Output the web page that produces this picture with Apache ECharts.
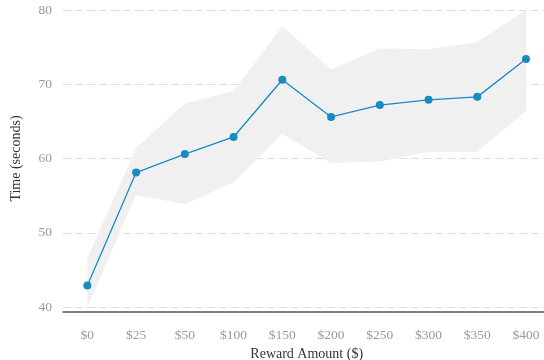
<!DOCTYPE html>
<html>
<head>
<meta charset="utf-8">
<script src="https://cdn.jsdelivr.net/npm/echarts@6/dist/echarts.min.js"></script>
<style>
  html, body { margin: 0; padding: 0; background: #fff; }
  #chart { width: 544px; height: 360px; }
</style>
</head>
<body>
<div id="chart"></div>
<script>
// Reward tiers and mean response time with its interval band
const rewards = ['$0', '$25', '$50', '$100', '$150', '$200', '$250', '$300', '$350', '$400'];
const meanTime = [42.9, 58.1, 60.6, 62.9, 70.6, 65.6, 67.2, 67.9, 68.3, 73.4];
const bandLower = [40.0, 55.1, 53.85, 56.8, 63.3, 59.4, 59.6, 60.9, 60.9, 66.4];
const bandUpper = [46.6, 61.4, 67.4, 69.1, 77.8, 72.0, 74.8, 74.7, 75.7, 80.0];

const bandSpan = bandUpper.map((u, i) => +(u - bandLower[i]).toFixed(2));

const FONT = 'Liberation Serif';

const chart = echarts.init(document.getElementById('chart'), null, { renderer: 'canvas' });
chart.setOption({
  animation: false,
  textStyle: { fontFamily: FONT },
  grid: {
    left: 63, right: -6.4, top: 10, bottom: 53,
    containLabel: false,
    outerBoundsMode: 'none'
  },
  xAxis: {
    type: 'category',
    data: rewards,
    boundaryGap: true,
    offset: 5,
    name: 'Reward Amount ($)',
    nameLocation: 'middle',
    nameGap: 35,
    nameTextStyle: { fontFamily: FONT, fontSize: 14, color: '#333' },
    axisLine: { lineStyle: { color: '#555', width: 1.5 } },
    axisTick: { alignWithLabel: true, length: 4, lineStyle: { color: '#ccc' } },
    axisLabel: { fontFamily: FONT, fontSize: 13.5, color: '#999', margin: 16 },
    splitLine: { show: false }
  },
  yAxis: {
    type: 'value',
    min: 40,
    max: 80,
    interval: 10,
    name: 'Time (seconds)',
    nameLocation: 'middle',
    nameGap: 40,
    nameTextStyle: { fontFamily: FONT, fontSize: 14, color: '#333' },
    axisLine: { show: false },
    axisTick: { show: false },
    axisLabel: { fontFamily: FONT, fontSize: 13.5, color: '#999', margin: 11 },
    splitLine: { lineStyle: { color: '#ddd', type: [8, 4], width: 1.2 } }
  },
  series: [
    {
      name: 'lower',
      type: 'line',
      data: bandLower,
      stack: 'band',
      symbol: 'none',
      lineStyle: { opacity: 0 },
      silent: true,
      z: 1
    },
    {
      name: 'span',
      type: 'line',
      data: bandSpan,
      stack: 'band',
      symbol: 'none',
      lineStyle: { opacity: 0 },
      areaStyle: { color: '#f0f0f0', opacity: 1 },
      silent: true,
      z: 1
    },
    {
      name: 'mean',
      type: 'line',
      data: meanTime,
      symbol: 'circle',
      symbolSize: 8,
      itemStyle: { color: '#1a8bc1' },
      lineStyle: { color: '#1a8bc1', width: 1.3 },
      z: 3
    }
  ]
});
</script>
</body>
</html>
